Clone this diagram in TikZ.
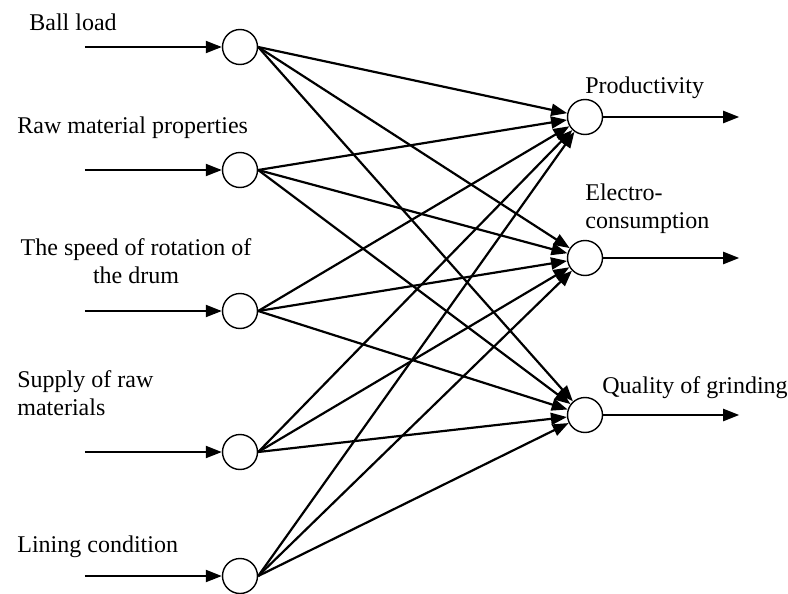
\documentclass[tikz,border=0pt]{standalone}
\usepackage{fontspec}
\setmainfont{Liberation Serif}
\usepackage{tikz}
\usetikzlibrary{arrows.meta, positioning}

\begin{document}
\begin{tikzpicture}[x=0.5pt,y=-0.5pt,>={Triangle[length=8pt,width=6pt]}]
    \tikzstyle{neuron}=[shape=circle,draw,line width=0.7pt,minimum size=17.5pt,inner sep=0pt]
    \tikzstyle{caption}=[font=\fontsize{12}{14}\selectfont,inner sep=0pt,anchor=west,align=left]

    \useasboundingbox (0,0) rectangle (788,594);

    \node[neuron] (X1) at (240,47) {};
    \node[neuron] (X2) at (240,170) {};
    \node[neuron] (X3) at (240,311) {};
    \node[neuron] (X4) at (240,452) {};
    \node[neuron] (X5) at (240,576) {};

    \node[neuron] (Y1) at (585,117) {};
    \node[neuron] (Y2) at (585,258) {};
    \node[neuron] (Y3) at (585,415) {};

    \coordinate[left=68.5pt of X1] (I1);
    \coordinate[left=68.5pt of X2] (I2);
    \coordinate[left=68.5pt of X3] (I3);
    \coordinate[left=68.5pt of X4] (I4);
    \coordinate[left=68.5pt of X5] (I5);

    \coordinate[right=68pt of Y1] (O1);
    \coordinate[right=68pt of Y2] (O2);
    \coordinate[right=68pt of Y3] (O3);

    \node[caption] (L1) at (29,22) {Ball load};
    \node[caption] (L2) at (17,128) {Raw material properties};
    \node[caption, anchor=center, align=center] (L3) at (136,261) {The speed of rotation of\\the drum};
    \node[caption] (L4) at (17,393) {Supply of raw\\materials};
    \node[caption] (L5) at (17,547) {Lining condition};

    \node[caption] (R1) at (585,88) {Productivity};
    \node[caption] (R2) at (585,209) {Electro-\\consumption};
    \node[caption] (R3) at (602,388) {Quality of grinding};

    \path[->, line width=1.1pt]
    (I1) edge (X1)
    (I2) edge (X2)
    (I3) edge (X3)
    (I4) edge (X4)
    (I5) edge (X5)

    (X1.east) edge (Y1)
    (X1.east) edge (Y2)
    (X1.east) edge (Y3)

    (X2.east) edge (Y1)
    (X2.east) edge (Y2)
    (X2.east) edge (Y3)

    (X3.east) edge (Y1)
    (X3.east) edge (Y2)
    (X3.east) edge (Y3)

    (X4.east) edge (Y1)
    (X4.east) edge (Y2)
    (X4.east) edge (Y3)

    (X5.east) edge (Y1)
    (X5.east) edge (Y2)
    (X5.east) edge (Y3)

    (Y1) edge (O1)
    (Y2) edge (O2)
    (Y3) edge (O3)
    ;

\end{tikzpicture}
\end{document}
